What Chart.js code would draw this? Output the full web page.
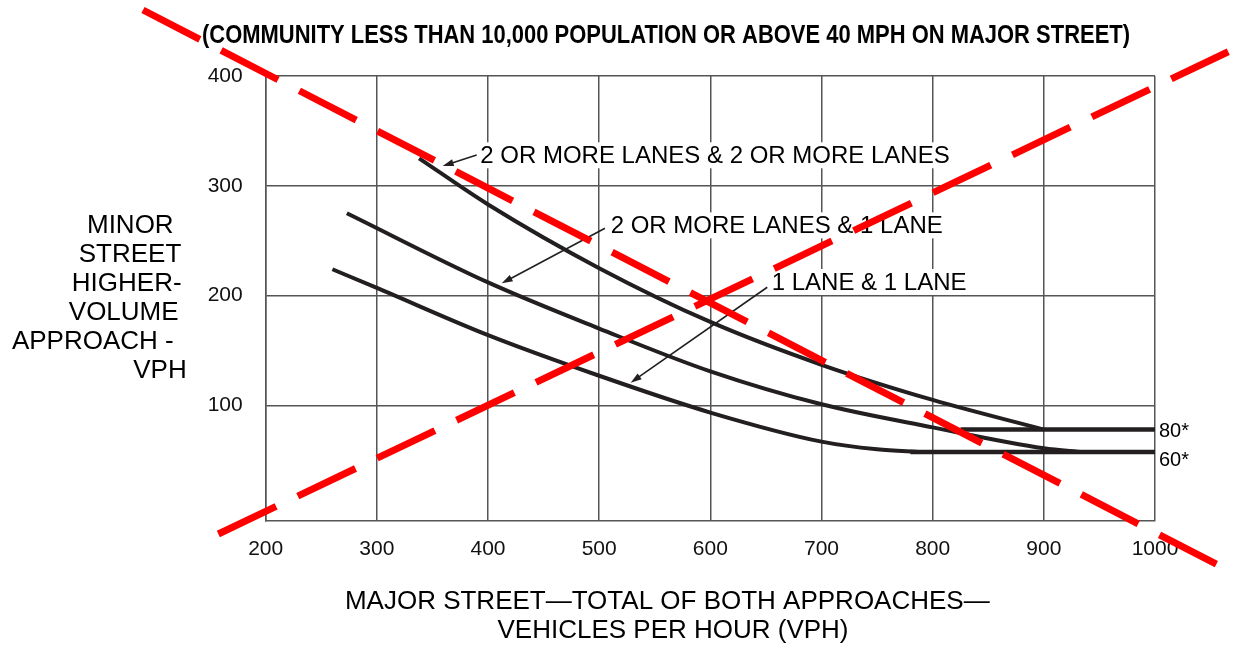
<!DOCTYPE html>
<html>
<head>
<meta charset="utf-8">
<script src="https://cdn.jsdelivr.net/npm/chart.js@4.4.0/dist/chart.umd.min.js"></script>
<style>
html, body { margin: 0; padding: 0; background: #fff; }
canvas { display: block; }
</style>
</head>
<body>
<canvas id="warrant" width="1233" height="656"></canvas>
<script>
// x = major street total of both approaches (vph), y = minor street higher-volume approach (vph)
var xTicks = [200, 300, 400, 500, 600, 700, 800, 900, 1000];
var yTicks = [100, 200, 300, 400];

// 2 or more lanes & 2 or more lanes
var twoTwoX = [338, 400, 500, 600, 700, 800, 900];
var twoTwoY = [325, 283, 225, 176, 137, 105, 78];
// 2 or more lanes & 1 lane
var twoOneX = [273, 400, 500, 600, 700, 800, 900, 935];
var twoOneY = [275, 212, 170, 131, 101, 80, 61, 57.5];
// 1 lane & 1 lane
var oneOneX = [260, 300, 400, 500, 600, 700, 750, 790];
var oneOneY = [224, 207, 164, 127, 93.5, 67, 60, 57.5];
// floor lines (80* and 60*)
var floor80X = [825, 1000];
var floor80Y = [78, 78];
var floor60X = [780, 1000];
var floor60Y = [57.5, 57.5];
// red cross-out strokes
var crossAX = [89.6, 1058.5];
var crossAY = [460.1, -46.3];
var crossBX = [157.4, 1065.9];
var crossBY = [-17.1, 422.1];

var notes = [
  { text: '2 OR MORE LANES & 2 OR MORE LANES', x: 393, y: 320.5, from: [389.8, 328.1], to: [359.2, 318.1] },
  { text: '2 OR MORE LANES & 1 LANE', x: 510.3, y: 256.7, from: [505.2, 261.3], to: [412.3, 211.2] },
  { text: '1 LANE & 1 LANE', x: 655.2, y: 205.1, from: [651.2, 207.6], to: [528.3, 120.7] }
];
var sideLabels = [{ text: '80*', y: 71 }, { text: '60*', y: 45 }];

var titleText = '(COMMUNITY LESS THAN 10,000 POPULATION OR ABOVE 40 MPH ON MAJOR STREET)';
var yTitle = ['MINOR', 'STREET', 'HIGHER-', 'VOLUME', 'APPROACH -', 'VPH'];
var yTitleX = [130.3, 130, 126.7, 123.7, 92.8, 160];
var xTitle = ['MAJOR STREET\u2014TOTAL OF BOTH APPROACHES\u2014', 'VEHICLES PER HOUR (VPH)'];

var ink = '#231f20';
var gridCol = '#555555';
var sans = '"Liberation Sans", Arial, Helvetica, sans-serif';

function pts(xs, ys) {
  return xs.map(function (x, i) { return { x: x, y: ys[i] }; });
}

function arrow(ctx, x0, y0, x1, y1) {
  var a = Math.atan2(y1 - y0, x1 - x0), h = 11, w = 3.5;
  var c = Math.cos(a), s = Math.sin(a);
  ctx.beginPath();
  ctx.moveTo(x0, y0);
  ctx.lineTo(x1 - c * h * 0.6, y1 - s * h * 0.6);
  ctx.stroke();
  ctx.beginPath();
  ctx.moveTo(x1, y1);
  ctx.lineTo(x1 - h * c + w * s, y1 - h * s - w * c);
  ctx.lineTo(x1 - h * c - w * s, y1 - h * s + w * c);
  ctx.closePath();
  ctx.fill();
}

var textPlugin = {
  id: 'warrantText',
  beforeDatasetsDraw: function (chart) {
    var ctx = chart.ctx, xs = chart.scales.x, ys = chart.scales.y;
    ctx.save();

    // title
    ctx.fillStyle = '#000';
    ctx.font = 'bold 25px "Liberation Sans Narrow", ' + sans;
    var tw = ctx.measureText(titleText).width;
    ctx.save();
    ctx.translate(666, 42.7);
    ctx.scale(928 / tw, 1);
    ctx.textAlign = 'center';
    ctx.textBaseline = 'alphabetic';
    ctx.fillText(titleText, 0, 0);
    ctx.restore();

    // y axis title
    ctx.font = '26px ' + sans;
    ctx.textAlign = 'center';
    yTitle.forEach(function (t, i) {
      ctx.fillText(t, yTitleX[i], 233.3 + i * 29);
    });

    // x axis title
    ctx.fillText(xTitle[0], 667.3, 609.3);
    ctx.fillText(xTitle[1], 673, 638.3);

    // curve labels with arrows
    ctx.font = '24px ' + sans;
    ctx.textAlign = 'left';
    ctx.strokeStyle = ink;
    ctx.lineWidth = 1.6;
    notes.forEach(function (n) {
      var px = xs.getPixelForValue(n.x), py = ys.getPixelForValue(n.y);
      var w = ctx.measureText(n.text).width;
      ctx.fillStyle = '#fff';
      ctx.fillRect(px - 4, py - 21, w + 8, 26);
      ctx.fillStyle = '#000';
      ctx.fillText(n.text, px, py);
      ctx.fillStyle = ink;
      arrow(ctx, xs.getPixelForValue(n.from[0]), ys.getPixelForValue(n.from[1]),
        xs.getPixelForValue(n.to[0]), ys.getPixelForValue(n.to[1]));
    });

    // 80* / 60*
    ctx.font = '20px ' + sans;
    ctx.fillStyle = '#000';
    sideLabels.forEach(function (l) {
      ctx.fillText(l.text, xs.getPixelForValue(1000) + 4, ys.getPixelForValue(l.y));
    });

    ctx.restore();
  }
};

var ctx = document.getElementById('warrant').getContext('2d');
var chart = new Chart(ctx, {
  type: 'line',
  data: {
    datasets: [
      { label: 'cross A', data: pts(crossAX, crossAY), borderColor: '#ff0000', borderWidth: 7,
        borderDash: [64, 24], clip: false, order: 0, tension: 0 },
      { label: 'cross B', data: pts(crossBX, crossBY), borderColor: '#ff0000', borderWidth: 7,
        borderDash: [64, 24], clip: false, order: 0, tension: 0 },
      { label: '2 or more lanes & 2 or more lanes', data: pts(twoTwoX, twoTwoY), borderColor: ink,
        borderWidth: 4, cubicInterpolationMode: 'monotone', order: 1 },
      { label: '2 or more lanes & 1 lane', data: pts(twoOneX, twoOneY), borderColor: ink,
        borderWidth: 4, cubicInterpolationMode: 'monotone', order: 1 },
      { label: '1 lane & 1 lane', data: pts(oneOneX, oneOneY), borderColor: ink,
        borderWidth: 4, cubicInterpolationMode: 'monotone', order: 1 },
      { label: '80*', data: pts(floor80X, floor80Y), borderColor: ink, borderWidth: 4.5, order: 1 },
      { label: '60*', data: pts(floor60X, floor60Y), borderColor: ink, borderWidth: 4.5, order: 1 }
    ]
  },
  options: {
    responsive: false,
    animation: false,
    events: [],
    layout: { padding: { top: 76, right: 78, bottom: 85.3, left: 165.7 } },
    elements: { point: { radius: 0 }, line: { borderCapStyle: 'butt', fill: false } },
    plugins: { legend: { display: false }, tooltip: { enabled: false }, title: { display: false } },
    scales: {
      x: {
        type: 'linear', min: 200, max: 1000,
        afterBuildTicks: function (s) { s.ticks = xTicks.map(function (v) { return { value: v }; }); },
        afterFit: function (s) { s.height = 50; },
        grid: { color: gridCol, lineWidth: 1.5, drawTicks: false },
        border: { color: gridCol, width: 1.5 },
        ticks: { color: '#111', font: { family: sans, size: 21 }, padding: 16, maxRotation: 0, autoSkip: false,
          callback: function (v) { return String(v); } }
      },
      y: {
        type: 'linear', min: -5, max: 400,
        afterBuildTicks: function (s) { s.ticks = yTicks.map(function (v) { return { value: v }; }); },
        afterFit: function (s) { s.width = 100; },
        grid: { color: gridCol, lineWidth: 1.5, drawTicks: false },
        border: { color: gridCol, width: 1.5 },
        ticks: { color: '#111', font: { family: sans, size: 21 }, padding: 23, autoSkip: false,
          callback: function (v) { return String(v); } }
      }
    }
  },
  plugins: [textPlugin]
});
</script>
</body>
</html>
